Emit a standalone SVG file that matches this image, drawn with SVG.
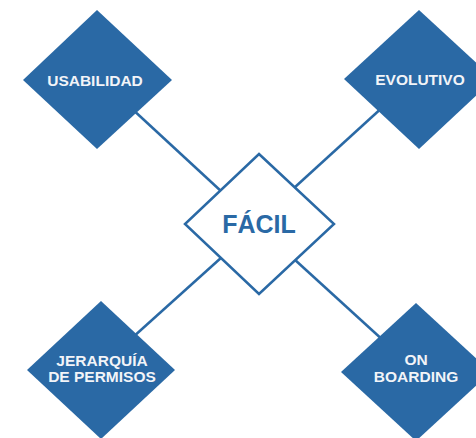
<svg xmlns="http://www.w3.org/2000/svg" width="476" height="438" viewBox="0 0 476 438">
<style>
.d{fill:#2a69a5}
.c{fill:#fff;stroke:#2a69a5;stroke-width:2.5}
.ln{stroke:#2a69a5;stroke-width:2.5;fill:none}
.t{font-family:"Liberation Sans",Arial,sans-serif;font-weight:bold;font-size:15.5px;fill:#f2f4f8;text-anchor:middle}
.ct{font-family:"Liberation Sans",Arial,sans-serif;font-weight:bold;font-size:25px;fill:#2a69a5;text-anchor:middle}
</style>
<rect width="476" height="438" fill="#fff"/>
<g id="connectors">
<line class="ln" x1="130" y1="107" x2="222" y2="192"/>
<line class="ln" x1="385" y1="105" x2="294" y2="188"/>
<line class="ln" x1="222" y1="257" x2="132" y2="338"/>
<line class="ln" x1="294" y1="259" x2="385" y2="342"/>
</g>
<g id="usabilidad">
<polygon class="d" points="97,10 172,80 97,149 23,80"/>
<text class="t" x="95" y="86">USABILIDAD</text>
</g>
<g id="evolutivo">
<polygon class="d" points="419,10 494,79 419,149 344,79"/>
<text class="t" x="420" y="85">EVOLUTIVO</text>
</g>
<g id="facil">
<polygon class="c" points="259,154 334,224 259,294 185,224"/>
<text class="ct" x="259" y="233">FÁCIL</text>
</g>
<g id="jerarquia">
<polygon class="d" points="101,301 175,370 101,439 27,370"/>
<text class="t" x="102" y="366">JERARQUÍA</text>
<text class="t" x="102" y="382">DE PERMISOS</text>
</g>
<g id="onboarding">
<polygon class="d" points="416,303 491,372 416,441 341,372"/>
<text class="t" x="416" y="365">ON</text>
<text class="t" x="416" y="382">BOARDING</text>
</g>
</svg>
